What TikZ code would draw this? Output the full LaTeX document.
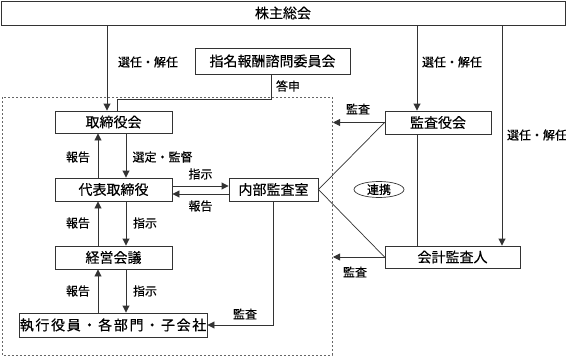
\documentclass[tikz,border=0pt]{standalone}
\usepackage{fontspec}
\setmainfont[FakeBold=0.35]{Noto Sans CJK JP}
\newfontfamily\jpwide[LetterSpace=12,FakeBold=0.35]{Noto Sans CJK JP}
\usetikzlibrary{arrows.meta,shapes.geometric}
\definecolor{linec}{HTML}{333333}
\begin{document}
\begin{tikzpicture}[x=1pt,y=-1pt,
  box/.style={draw=linec, line width=0.9pt, fill=white, inner sep=0pt, font=\fontsize{14}{16}\selectfont},
  lbl/.style={font=\fontsize{12}{14}\selectfont, inner sep=0pt},
  ln/.style={draw=linec, line width=0.9pt},
  arr/.style={ln, -{Triangle[length=7pt,width=7pt]}}]
\useasboundingbox (0,0) rectangle (566,356);
\draw[gray!80!black, line width=0.8pt, dash pattern=on 2pt off 2pt] (2,97) rectangle (332,355);

\node[box, minimum width=564pt, minimum height=24pt] (agm) at (283,13) {株主総会};
\node[box, minimum width=155pt, minimum height=26pt] (comm) at (272.5,61) {指名報酬諮問委員会};
\node[box, minimum width=117pt, minimum height=22pt] (board) at (113.5,122) {取締役会};
\node[box, minimum width=117pt, minimum height=23pt] (rep) at (113.5,189.5) {代表取締役};
\node[box, minimum width=117pt, minimum height=23pt] (mgmt) at (113.5,257.5) {経営会議};
\node[box, minimum width=188pt, minimum height=24pt] (exec) at (113,325) {\jpwide 執行役員・各部門・子会社};
\node[box, minimum width=89pt, minimum height=23pt] (audit) at (273.5,189.5) {内部監査室};
\node[box, minimum width=106pt, minimum height=23pt] (kansa) at (438,122.5) {監査役会};
\node[box, minimum width=135pt, minimum height=22pt] (acct) at (452.5,257) {会計監査人};
\node[ellipse, draw=linec, line width=0.7pt, minimum width=50pt, minimum height=16pt, inner sep=0pt, font=\fontsize{12}{14}\selectfont] (renkei) at (379,189.5) {連携};

\coordinate (c1) at (107,0);
\coordinate (c2) at (417,0);
\coordinate (c3) at (502,0);
\coordinate (cm) at (271,0);
\coordinate (bend) at (117,99);
\coordinate (cL) at (98,0);
\coordinate (cR) at (126,0);
\coordinate (yA) at (0,186);
\coordinate (yB) at (0,194);
\coordinate (dashR) at (333,0);

\draw[arr] (agm.south -| c1) -- (board.north -| c1);
\draw[arr] (agm.south -| c2) -- (kansa.north -| c2);
\draw[arr] (agm.south -| c3) -- (acct.north -| c3);
\draw[ln] (comm.south -| cm) |- (bend) -- (board.north -| bend);

\draw[arr] (board.south -| cR) -- (rep.north -| cR);
\draw[arr] (rep.north -| cL) -- (board.south -| cL);
\draw[arr] (rep.south -| cR) -- (mgmt.north -| cR);
\draw[arr] (mgmt.north -| cL) -- (rep.south -| cL);
\draw[arr] (mgmt.south -| cR) -- (exec.north -| cR);
\draw[arr] (exec.north -| cL) -- (mgmt.south -| cL);

\draw[arr] (rep.east |- yA) -- (audit.west |- yA);
\draw[arr] (audit.west |- yB) -- (rep.east |- yB);
\draw[arr] (audit.south) |- (exec.east);

\draw[arr] (kansa.west) -- (kansa.west -| dashR);
\draw[arr] (acct.west) -- (acct.west -| dashR);
\draw[ln, line width=0.7pt] (kansa.west) -- (audit.east) -- (acct.west);
\draw[ln] (kansa.south -| c2) -- (acct.north -| c2);

\node[lbl] (l1) at (148,62) {選任・解任};
\node[lbl] (l2) at (452,62) {選任・解任};
\node[lbl] (l3) at (537,135) {選任・解任};
\node[lbl] (l4) at (288,86) {答申};
\node[lbl] (l5) at (78,157) {報告};
\node[lbl] (l6) at (162.5,157) {選定・監督};
\node[lbl] (l7) at (200.5,174) {指示};
\node[lbl] (l8) at (200.5,206) {報告};
\node[lbl] (l9) at (78,223) {報告};
\node[lbl] (l10) at (145,223) {指示};
\node[lbl] (l11) at (78,291) {報告};
\node[lbl] (l12) at (145,291) {指示};
\node[lbl] (l13) at (245,314) {監査};
\node[lbl] (l14) at (358,109) {監査};
\node[lbl] (l15) at (355,272) {監査};
\end{tikzpicture}
\end{document}
